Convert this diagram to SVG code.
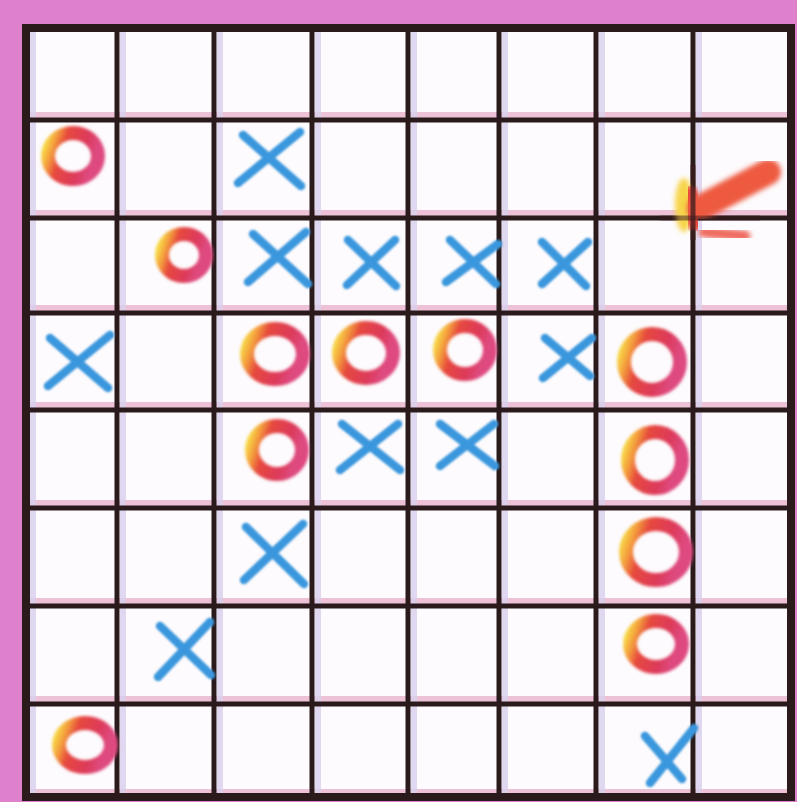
<svg xmlns="http://www.w3.org/2000/svg" width="797" height="802" viewBox="0 0 797 802">
<defs>
<linearGradient id="og" x1="0" y1="0" x2="1" y2="0.3">
<stop offset="0" stop-color="#f8dc48"/>
<stop offset="0.18" stop-color="#f39a3c"/>
<stop offset="0.36" stop-color="#e6483e"/>
<stop offset="0.75" stop-color="#dd3a5a"/>
<stop offset="1" stop-color="#de4a80"/>
</linearGradient>
<filter id="soft" x="-20%" y="-20%" width="140%" height="140%"><feGaussianBlur stdDeviation="1.6"/></filter>
<filter id="soft2" x="-20%" y="-20%" width="140%" height="140%"><feGaussianBlur stdDeviation="0.8"/></filter>
<filter id="soft3" x="-30%" y="-30%" width="160%" height="160%"><feGaussianBlur stdDeviation="2.5"/></filter>
</defs>
<style>
.bg{fill:#de80cc}
.cell{fill:#fdfbfd}
.shade{stroke:#e7a9c6;stroke-width:6;opacity:0.7}
.vshade{stroke:#d9d0ee;stroke-width:6;opacity:0.8}
.gl{stroke:#2a1a1c;stroke-width:5;stroke-linecap:square}
.frame{fill:none;stroke:#2a1a1c;stroke-width:8}
.o{fill:none;stroke:url(#og);stroke-width:14;filter:url(#soft)}
.x{fill:none;stroke:#3b97dd;stroke-width:8.5;stroke-linecap:round;filter:url(#soft2)}
</style>
<rect class="bg" x="0" y="0" width="797" height="802"/>
<rect class="cell" x="26" y="28" width="765" height="769"/>
<g id="grid-shading">
<line class="shade" x1="26" y1="115" x2="791" y2="115"/>
<line class="shade" x1="26" y1="213" x2="791" y2="213"/>
<line class="shade" x1="26" y1="308" x2="791" y2="308"/>
<line class="shade" x1="26" y1="405" x2="791" y2="405"/>
<line class="shade" x1="26" y1="503" x2="791" y2="503"/>
<line class="shade" x1="26" y1="601" x2="791" y2="601"/>
<line class="shade" x1="26" y1="699" x2="791" y2="699"/>
<line class="shade" x1="26" y1="792" x2="791" y2="792"/>
<line class="vshade" x1="123" y1="28" x2="123" y2="797"/>
<line class="vshade" x1="220" y1="28" x2="220" y2="797"/>
<line class="vshade" x1="318" y1="28" x2="318" y2="797"/>
<line class="vshade" x1="414" y1="28" x2="414" y2="797"/>
<line class="vshade" x1="505" y1="28" x2="505" y2="797"/>
<line class="vshade" x1="602" y1="28" x2="602" y2="797"/>
<line class="vshade" x1="699" y1="28" x2="699" y2="797"/>
<line class="vshade" x1="33" y1="28" x2="33" y2="797"/>
</g>
<g id="grid">
<line class="gl" x1="117" y1="28" x2="117" y2="797"/>
<line class="gl" x1="214" y1="28" x2="214" y2="797"/>
<line class="gl" x1="312" y1="28" x2="312" y2="797"/>
<line class="gl" x1="408" y1="28" x2="408" y2="797"/>
<line class="gl" x1="499" y1="28" x2="499" y2="797"/>
<line class="gl" x1="596" y1="28" x2="596" y2="797"/>
<line class="gl" x1="693" y1="28" x2="693" y2="797"/>
<line class="gl" x1="26" y1="120" x2="791" y2="120"/>
<line class="gl" x1="26" y1="218" x2="791" y2="218"/>
<line class="gl" x1="26" y1="313" x2="791" y2="313"/>
<line class="gl" x1="26" y1="410" x2="791" y2="410"/>
<line class="gl" x1="26" y1="508" x2="791" y2="508"/>
<line class="gl" x1="26" y1="606" x2="791" y2="606"/>
<line class="gl" x1="26" y1="704" x2="791" y2="704"/>
<rect class="frame" x="26" y="28" width="765" height="769"/>
</g>
<g id="marks-o">
<ellipse class="o" cx="73" cy="156" rx="25" ry="23"/>
<ellipse class="o" cx="184" cy="255" rx="22" ry="21"/>
<ellipse class="o" cx="275" cy="354" rx="28" ry="25"/>
<ellipse class="o" cx="366" cy="353" rx="27" ry="25"/>
<ellipse class="o" cx="465" cy="350" rx="25" ry="24"/>
<ellipse class="o" cx="652" cy="362" rx="28" ry="28"/>
<ellipse class="o" cx="277" cy="450" rx="25" ry="24"/>
<ellipse class="o" cx="655" cy="460" rx="27" ry="28"/>
<ellipse class="o" cx="656" cy="552" rx="30" ry="28"/>
<ellipse class="o" cx="656" cy="644" rx="26" ry="23"/>
<ellipse class="o" cx="85" cy="745" rx="26" ry="22"/>
</g>
<g id="marks-x">
<path class="x" d="M238 183 L300 132 M243 135 L301 186"/>
<path class="x" d="M248 282 L306 232 M253 234 L308 284"/>
<path class="x" d="M347 285 L395 240 M348 240 L396 286"/>
<path class="x" d="M446 282 L498 244 M450 240 L496 284"/>
<path class="x" d="M542 284 L588 242 M542 242 L586 286"/>
<path class="x" d="M48 386 L110 335 M50 338 L108 388"/>
<path class="x" d="M543 378 L592 338 M545 338 L590 376"/>
<path class="x" d="M340 470 L398 424 M342 424 L400 470"/>
<path class="x" d="M440 466 L494 424 M440 424 L495 466"/>
<path class="x" d="M244 580 L303 524 M246 527 L304 584"/>
<path class="x" d="M158 677 L210 622 M160 626 L211 675"/>
<path class="x" d="M650 783 L694 728 M645 736 L682 779"/>
</g>
<g id="check-mark">
<ellipse cx="684" cy="205" rx="9" ry="27" fill="#f7d44a" filter="url(#soft3)"/>
<path d="M690 195 L696 222" stroke="#e84a3c" stroke-width="18" stroke-linecap="round" fill="none" filter="url(#soft3)"/>
<path d="M700 208 L768 172" stroke="#ee5a40" stroke-width="26" stroke-linecap="round" fill="none" filter="url(#soft3)"/>
<path d="M704 232 L745 236" stroke="#ef6a5e" stroke-width="11" stroke-linecap="round" fill="none" filter="url(#soft3)"/>
<line x1="693" y1="165" x2="693" y2="240" stroke="#3a1a1c" stroke-width="5" opacity="0.75"/>
<line x1="660" y1="218" x2="760" y2="218" stroke="#3a1a1c" stroke-width="5" opacity="0.5"/>
</g>
</svg>
